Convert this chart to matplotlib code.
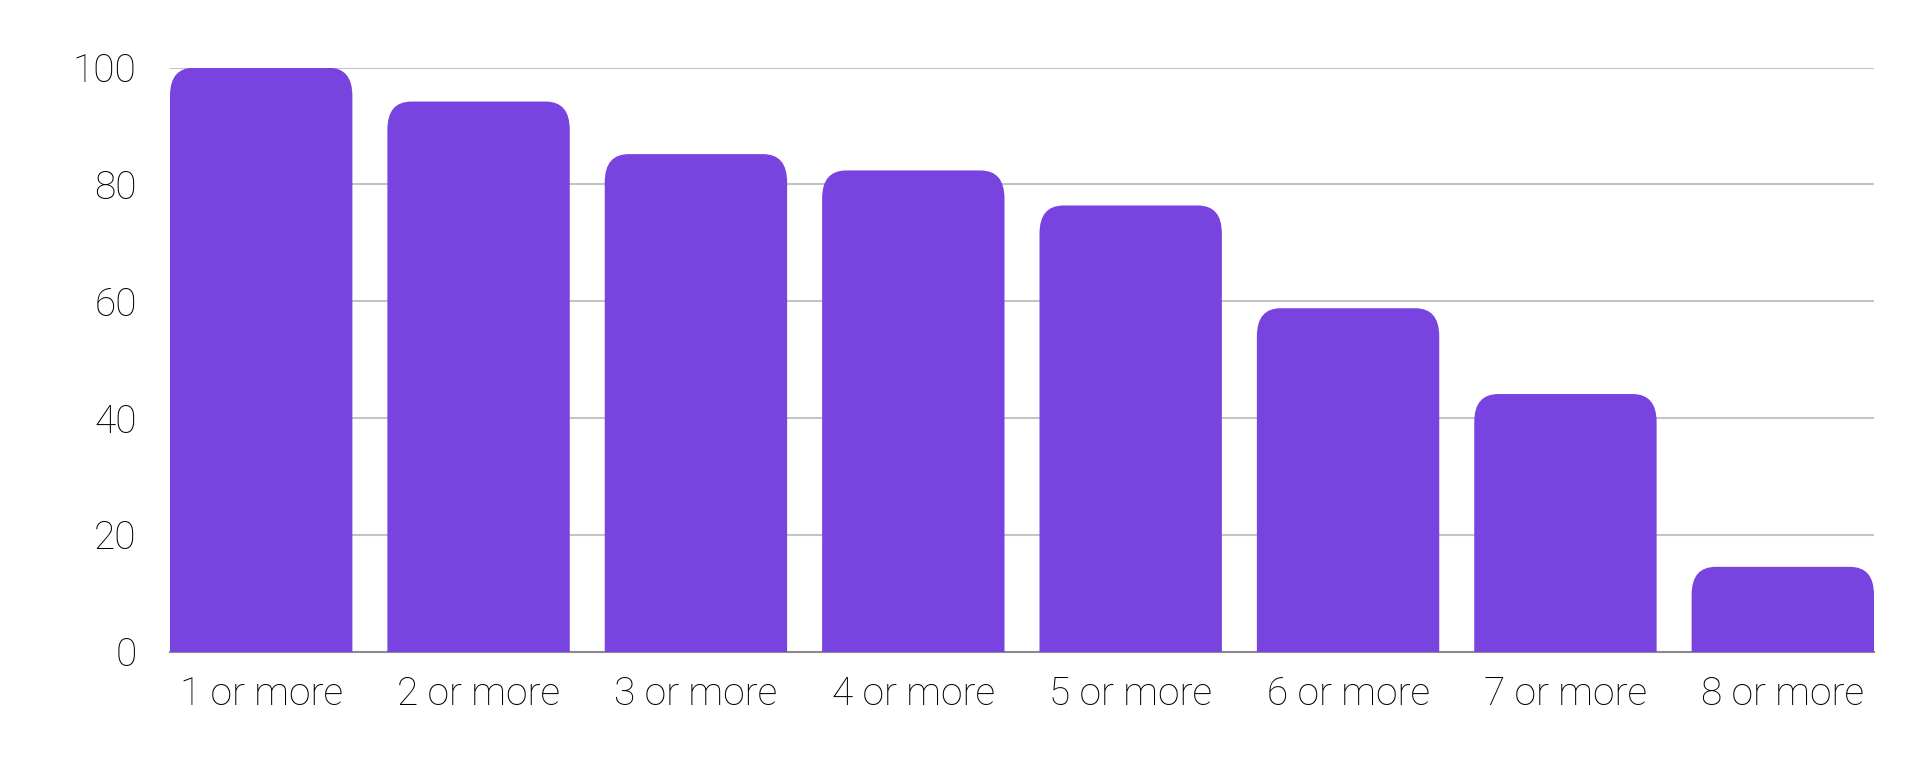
import matplotlib
matplotlib.use("Agg")
import matplotlib.pyplot as plt
from matplotlib.patches import FancyBboxPatch

categories = ["1 or more", "2 or more", "3 or more", "4 or more",
              "5 or more", "6 or more", "7 or more", "8 or more"]
values = [100, 94.2, 85.2, 82.4, 76.4, 58.8, 44.1, 14.5]
y_ticks = [0, 20, 40, 60, 80, 100]

BAR_COLOR = "#7843DF"
plt.rcParams['font.family'] = ['Roboto', 'DejaVu Sans']
plt.rcParams['font.weight'] = 'light'

W, H, DPI = 1920, 758, 100
fig = plt.figure(figsize=(W / DPI, H / DPI), dpi=DPI)
left, right, top, bottom = 170, 1874, 67.7, 651.5
ax = fig.add_axes([left / W, 1 - bottom / H, (right - left) / W, (bottom - top) / H])

bar_w = 0.839
x = list(range(len(categories)))
bars = ax.bar(x, values, width=bar_w, color=BAR_COLOR, zorder=3)

ax.set_xlim(-bar_w / 2, len(categories) - 1 + bar_w / 2)
ax.set_ylim(0, 100)

# rounded top corners (slightly elliptical)
px_per_x = (right - left) / (len(categories) - 1 + bar_w)
px_per_y = (bottom - top) / 100
rx = 24 / px_per_x
ry = 28 / px_per_y
for b in bars:
    b.set_visible(False)
    bx, bw, bh = b.get_x(), b.get_width(), b.get_height()
    p = FancyBboxPatch((bx, -20), bw, bh + 20,
                       boxstyle=f"round,pad=0,rounding_size={rx}",
                       mutation_aspect=ry / rx,
                       facecolor=BAR_COLOR, edgecolor="none",
                       zorder=3, clip_on=True)
    ax.add_patch(p)

ax.set_yticks(y_ticks)
ax.set_xticks(x)
ax.set_xticklabels(categories)
ax.yaxis.grid(True, color="#c4c4c4", linewidth=1.5, zorder=0)
ax.set_axisbelow(True)
for s in ["top", "right", "left"]:
    ax.spines[s].set_visible(False)
ax.spines["bottom"].set_color("#8a8a8a")
ax.spines["bottom"].set_linewidth(1.5)
ax.spines["bottom"].set_zorder(2)
ax.tick_params(axis="both", length=0, labelsize=28, colors="black")
ax.tick_params(axis="y", pad=24)
ax.tick_params(axis="x", pad=17)

fig.savefig("out.png", dpi=DPI, facecolor="white")
